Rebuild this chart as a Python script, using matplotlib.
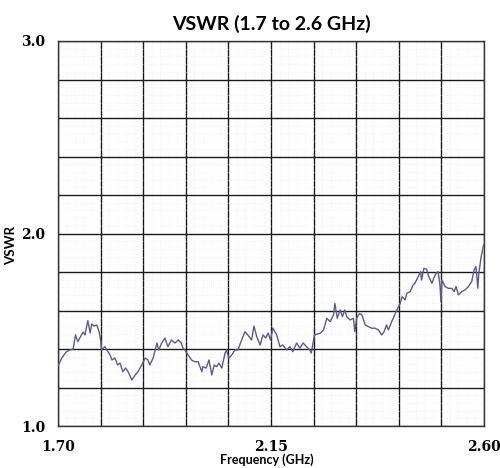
import numpy as np
import matplotlib
matplotlib.use('Agg')
import matplotlib.pyplot as plt
from matplotlib.ticker import AutoMinorLocator

# values
freq_ghz = [1.700, 1.708, 1.717, 1.725, 1.732, 1.737, 1.742, 1.746, 1.753, 1.757,
            1.763, 1.768, 1.771, 1.776, 1.782, 1.787, 1.790, 1.792, 1.799, 1.803,
            1.810, 1.814, 1.820, 1.826, 1.831, 1.837, 1.843, 1.848, 1.856, 1.863,
            1.869, 1.877, 1.884, 1.890, 1.894, 1.901, 1.909, 1.913, 1.919, 1.926,
            1.932, 1.940, 1.947, 1.954, 1.960, 1.964, 1.968, 1.982, 1.989, 1.996,
            2.004, 2.006, 2.013, 2.019, 2.025, 2.030, 2.035, 2.040, 2.046, 2.053,
            2.056, 2.061, 2.067, 2.074, 2.080, 2.088, 2.095, 2.101, 2.109, 2.114,
            2.120, 2.127, 2.133, 2.139, 2.144, 2.149, 2.154, 2.162, 2.169, 2.175,
            2.183, 2.190, 2.196, 2.204, 2.211, 2.218, 2.225, 2.232, 2.235, 2.242,
            2.254, 2.261, 2.268, 2.275, 2.282, 2.285, 2.290, 2.296, 2.301, 2.306,
            2.310, 2.317, 2.324, 2.327, 2.331, 2.337, 2.342, 2.349, 2.356, 2.363,
            2.370, 2.377, 2.384, 2.389, 2.394, 2.398, 2.405, 2.416, 2.423, 2.427,
            2.433, 2.437, 2.444, 2.450, 2.454, 2.461, 2.466, 2.468, 2.473, 2.479,
            2.482, 2.490, 2.495, 2.499, 2.503, 2.507, 2.509, 2.511, 2.518, 2.525,
            2.532, 2.537, 2.541, 2.546, 2.553, 2.560, 2.567, 2.574, 2.579, 2.583,
            2.587, 2.589, 2.594, 2.599]
vswr = [1.312, 1.353, 1.384, 1.395, 1.400, 1.473, 1.438, 1.457, 1.488, 1.473,
        1.547, 1.483, 1.530, 1.519, 1.525, 1.488, 1.447, 1.395, 1.412, 1.395,
        1.369, 1.343, 1.353, 1.317, 1.327, 1.282, 1.301, 1.282, 1.239, 1.265,
        1.282, 1.317, 1.353, 1.343, 1.317, 1.353, 1.431, 1.395, 1.431, 1.457,
        1.412, 1.447, 1.431, 1.447, 1.433, 1.405, 1.395, 1.343, 1.334, 1.334,
        1.282, 1.308, 1.301, 1.343, 1.265, 1.317, 1.308, 1.327, 1.301, 1.379,
        1.395, 1.353, 1.369, 1.395, 1.395, 1.447, 1.490, 1.473, 1.447, 1.519,
        1.464, 1.421, 1.473, 1.457, 1.483, 1.447, 1.509, 1.473, 1.412, 1.421,
        1.395, 1.412, 1.386, 1.431, 1.405, 1.431, 1.412, 1.395, 1.379, 1.473,
        1.482, 1.499, 1.560, 1.542, 1.577, 1.637, 1.560, 1.603, 1.568, 1.603,
        1.568, 1.551, 1.560, 1.490, 1.560, 1.585, 1.577, 1.525, 1.516, 1.508,
        1.508, 1.499, 1.473, 1.490, 1.525, 1.499, 1.542, 1.603, 1.637, 1.672,
        1.655, 1.689, 1.698, 1.732, 1.741, 1.776, 1.802, 1.758, 1.819, 1.814,
        1.784, 1.741, 1.776, 1.793, 1.802, 1.732, 1.646, 1.758, 1.724, 1.715,
        1.715, 1.698, 1.724, 1.681, 1.698, 1.707, 1.724, 1.750, 1.810, 1.828,
        1.715, 1.793, 1.879, 1.940]

x_ticks = [1.70, 1.79, 1.88, 1.97, 2.06, 2.15, 2.24, 2.33, 2.42, 2.51, 2.60]
x_labels = ['1.70', '', '', '', '', '2.15', '', '', '', '', '2.60']
y_ticks = [1.0, 1.2, 1.4, 1.6, 1.8, 2.0, 2.2, 2.4, 2.6, 2.8, 3.0]
y_labels = ['1.0', '', '', '', '', '2.0', '', '', '', '', '3.0']

fig = plt.figure(figsize=(5, 4.68), dpi=100)
ax = fig.add_axes([58 / 500, 1 - 426 / 468, 426 / 500, 385 / 468])

ax.plot(freq_ghz, vswr, color='#5b5b8c', lw=1.0, zorder=3)

ax.set_xlim(1.70, 2.60)
ax.set_ylim(1.0, 3.0)
ax.set_xticks(x_ticks, x_labels)
ax.set_yticks(y_ticks, y_labels)
ax.xaxis.set_minor_locator(AutoMinorLocator(5))
ax.yaxis.set_minor_locator(AutoMinorLocator(5))
ax.tick_params(which='both', length=0)
ax.tick_params(axis='x', pad=10)
ax.tick_params(axis='y', pad=9)
for lab in ax.get_xticklabels() + ax.get_yticklabels():
    lab.set_fontfamily('DejaVu Serif')
    lab.set_fontweight('bold')
    lab.set_fontsize(10)

ax.grid(which='major', color='#1a1a1a', lw=1.0)
ax.grid(which='minor', color='#efefef', lw=0.6, ls=':')
for s in ax.spines.values():
    s.set_color('#333333')
    s.set_linewidth(1.0)

ax.set_title('VSWR (1.7 to 2.6 GHz)', fontfamily='Lato', fontweight='bold',
             fontsize=14, pad=8)
ax.set_xlabel('Frequency (GHz)', fontfamily='Lato', fontweight='bold', fontsize=9)
ax.xaxis.set_label_coords(0.49, -0.07)
ax.set_ylabel('VSWR', fontfamily='Lato', fontweight='bold', fontsize=9.5)
ax.yaxis.set_label_coords(-0.095, 0.47)

fig.savefig('out.png', dpi=100)
